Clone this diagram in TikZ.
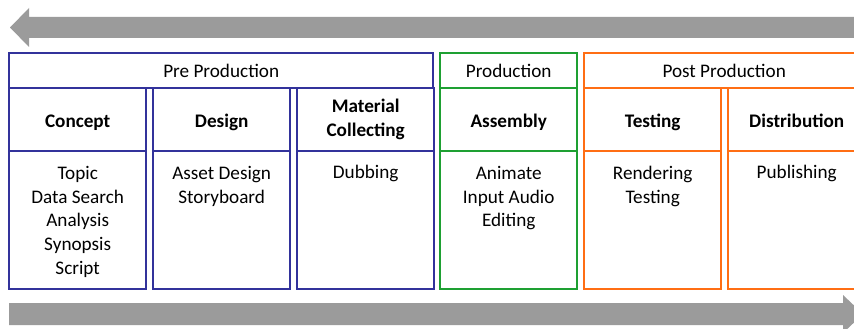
\documentclass[tikz,border=0pt]{standalone}
\usepackage{fontspec}
\setmainfont{Carlito}
\usetikzlibrary{positioning}

\definecolor{preblue}{RGB}{50,50,155}
\definecolor{prodgreen}{RGB}{30,160,50}
\definecolor{postorange}{RGB}{255,110,20}
\definecolor{flowgray}{RGB}{155,155,155}

\begin{document}
\begin{tikzpicture}[x=1pt,y=-1pt,
    font=\fontsize{19.2}{23.7}\selectfont,
    phase/.style={draw,line width=2.4pt,anchor=north west,inner sep=0pt,
                  minimum height=35pt},
    stage/.style={draw,line width=2.4pt,anchor=north west,inner sep=0pt,
                  minimum width=137pt,minimum height=63pt,align=center,
                  font=\fontsize{19.2}{23.7}\selectfont\bfseries,
                  execute at begin node={\rule[-4.5pt]{0pt}{24pt}}},
    stagebody/.style={draw,line width=2.4pt,anchor=north west,inner sep=0pt,
                  minimum width=137pt,minimum height=138pt},
    tasks/.style={align=center,inner sep=0pt}]
  \useasboundingbox (0,0) rectangle (854,329);
  \clip (0,0) rectangle (854,329);

  % flow arrows
  \fill[flowgray] (10,27.5) -- (29,8) -- (29,17) -- (870,17)
                  -- (870,38) -- (29,38) -- (29,47) -- cycle;
  \fill[flowgray] (9,303) -- (843,303) -- (843,295) -- (863,314)
                  -- (843,333) -- (843,325) -- (9,325) -- cycle;

  % phases
  \node[phase,draw=preblue,minimum width=424pt] (pre) at (8,52) {Pre Production};
  \node[phase,draw=prodgreen,minimum width=137pt] (prod) at (439,52) {Production};
  \node[phase,draw=postorange,minimum width=280pt] (post) at (583,52) {Post Production};

  % stages
  \node[stage,draw=preblue] (concept) at (8,87) {Concept};
  \node[stage,draw=preblue] (design) at (152,87) {Design};
  \node[stage,draw=preblue] (material) at (296,87) {Material\\Collecting};
  \node[stage,draw=prodgreen] (assembly) at (439,87) {Assembly};
  \node[stage,draw=postorange] (testing) at (583,87) {Testing};
  \node[stage,draw=postorange] (distribution) at (727,87) {Distribution};

  \node[stagebody,draw=preblue] (conceptbody) at (8,150) {};
  \node[stagebody,draw=preblue] (designbody) at (152,150) {};
  \node[stagebody,draw=preblue] (materialbody) at (296,150) {};
  \node[stagebody,draw=prodgreen] (assemblybody) at (439,150) {};
  \node[stagebody,draw=postorange] (testingbody) at (583,150) {};
  \node[stagebody,draw=postorange] (distributionbody) at (727,150) {};

  % tasks
  \node[tasks,below=16pt of conceptbody.north] (concepttasks)
    {Topic\\Data Search\\Analysis\\Synopsis\\Script};
  \node[tasks,below=16pt of designbody.north] (designtasks)
    {Asset Design\\Storyboard};
  \node[tasks,below=15pt of materialbody.north] (materialtasks) {Dubbing};
  \node[tasks,below=16pt of assemblybody.north] (assemblytasks)
    {Animate\\Input Audio\\Editing};
  \node[tasks,below=16pt of testingbody.north] (testingtasks)
    {Rendering\\Testing};
  \node[tasks,below=15pt of distributionbody.north] (distributiontasks)
    {Publishing};
\end{tikzpicture}
\end{document}
